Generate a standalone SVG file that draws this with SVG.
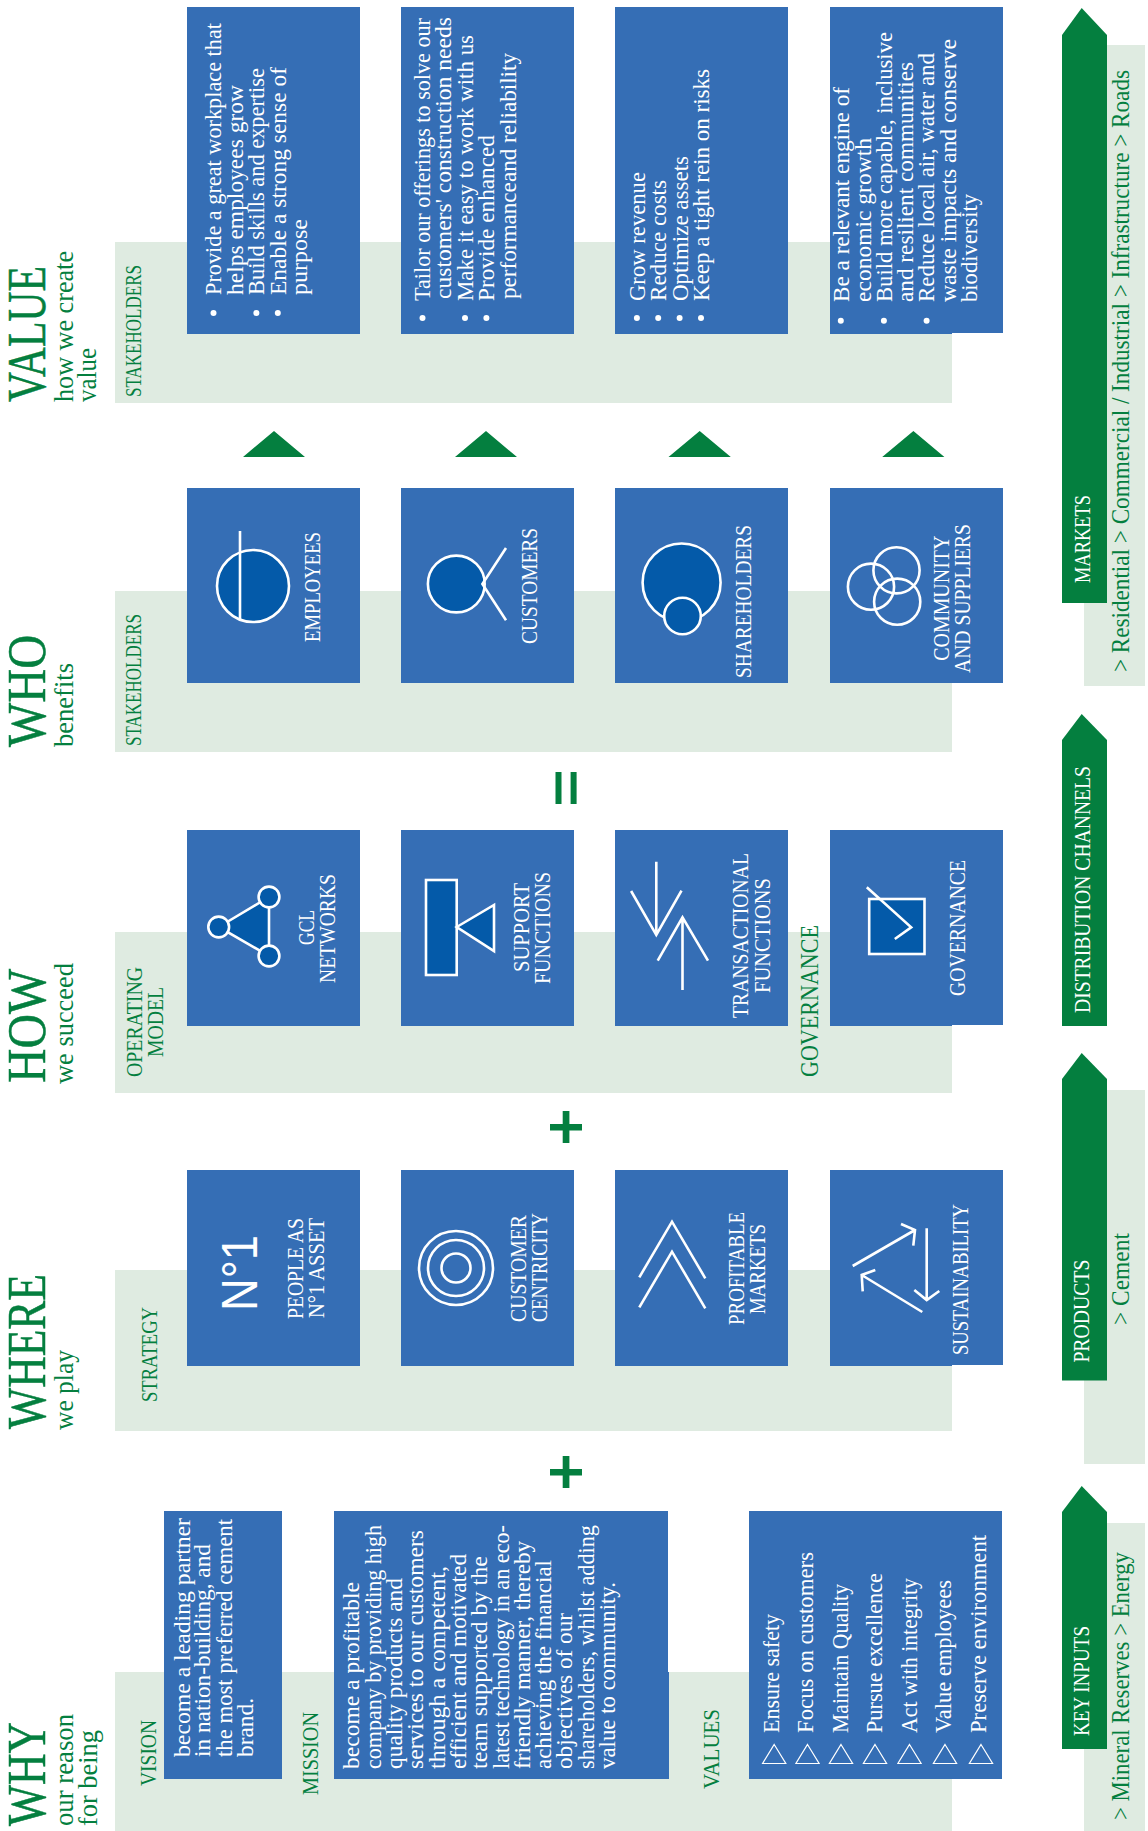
<svg xmlns="http://www.w3.org/2000/svg" width="1148" height="1831" viewBox="0 0 1148 1831">
<style>
text{font-family:"Liberation Serif","Times New Roman",serif;}
.g{fill:#047f3f}.w{fill:#fff}
.h{font-size:54px;stroke:#047f3f;stroke-width:.5}.s{font-size:27px}.l{font-size:24px}.b{font-size:23px}.m{font-size:25px}
.band{fill:#dfebe1}.box{fill:#356eb5}.ar{fill:#047f3f}
.ic{fill:none;stroke:#fff;stroke-width:2.6}.dk{fill:#045aa9;stroke:#fff;stroke-width:2.6}.thin{fill:none;stroke:#fff;stroke-width:1.2}
</style>
<g id="bands">
<rect class="band" x="115" y="1672" width="837" height="159"/>
<rect class="band" x="115" y="1270" width="837" height="161"/>
<rect class="band" x="115" y="932" width="837" height="161"/>
<rect class="band" x="115" y="591" width="837" height="161"/>
<rect class="band" x="115" y="242" width="837" height="161"/>
<rect class="band" x="1084" y="45" width="61" height="641"/>
<rect class="band" x="1084" y="1090" width="61" height="374"/>
<rect class="band" x="1084" y="1523" width="61" height="308"/>
</g>
<g id="row-why">
<text class="g h" transform="translate(44.8,1826) rotate(-90)" textLength="104" lengthAdjust="spacingAndGlyphs">WHY</text>
<text class="g s" transform="translate(73,1826) rotate(-90)" textLength="112" lengthAdjust="spacingAndGlyphs">our reason</text>
<text class="g s" transform="translate(97,1826) rotate(-90)" textLength="96" lengthAdjust="spacingAndGlyphs">for being</text>
<text class="g l" transform="translate(156,1786) rotate(-90)" textLength="66" lengthAdjust="spacingAndGlyphs">VISION</text>
<text class="g l" transform="translate(318,1795) rotate(-90)" textLength="83" lengthAdjust="spacingAndGlyphs">MISSION</text>
<text class="g l" transform="translate(718.5,1789) rotate(-90)" textLength="80" lengthAdjust="spacingAndGlyphs">VALUES</text>
</g>
<g id="vision">
<rect class="box" x="164" y="1511" width="118" height="268"/>
<text class="w b" transform="translate(190,1757) rotate(-90)" textLength="239" lengthAdjust="spacingAndGlyphs">become a leading partner</text>
<text class="w b" transform="translate(210,1757) rotate(-90)" textLength="213" lengthAdjust="spacingAndGlyphs">in nation-building, and</text>
<text class="w b" transform="translate(232,1757) rotate(-90)" textLength="238" lengthAdjust="spacingAndGlyphs">the most preferred cement</text>
<text class="w b" transform="translate(253,1757) rotate(-90)" textLength="59" lengthAdjust="spacingAndGlyphs">brand.</text>
</g>
<g id="mission">
<rect class="box" x="334" y="1511" width="334" height="268"/>
<rect class="box" x="668" y="1672" width="1" height="107"/>
<text class="w b" transform="translate(359.4,1769) rotate(-90)" textLength="187" lengthAdjust="spacingAndGlyphs">become a profitable</text>
<text class="w b" transform="translate(380.7,1769) rotate(-90)" textLength="244" lengthAdjust="spacingAndGlyphs">company by providing high</text>
<text class="w b" transform="translate(402,1769) rotate(-90)" textLength="191" lengthAdjust="spacingAndGlyphs">quality products and</text>
<text class="w b" transform="translate(423.3,1769) rotate(-90)" textLength="239" lengthAdjust="spacingAndGlyphs">services to our customers</text>
<text class="w b" transform="translate(444.6,1769) rotate(-90)" textLength="203" lengthAdjust="spacingAndGlyphs">through a competent,</text>
<text class="w b" transform="translate(465.9,1769) rotate(-90)" textLength="215" lengthAdjust="spacingAndGlyphs">efficient and motivated</text>
<text class="w b" transform="translate(487.2,1769) rotate(-90)" textLength="213" lengthAdjust="spacingAndGlyphs">team supported by the</text>
<text class="w b" transform="translate(508.5,1769) rotate(-90)" textLength="244" lengthAdjust="spacingAndGlyphs">latest technology in an eco-</text>
<text class="w b" transform="translate(529.8,1769) rotate(-90)" textLength="228" lengthAdjust="spacingAndGlyphs">friendly manner, thereby</text>
<text class="w b" transform="translate(551.1,1769) rotate(-90)" textLength="209" lengthAdjust="spacingAndGlyphs">achieving the financial</text>
<text class="w b" transform="translate(572.4,1769) rotate(-90)" textLength="156" lengthAdjust="spacingAndGlyphs">objectives of our</text>
<text class="w b" transform="translate(593.7,1769) rotate(-90)" textLength="244" lengthAdjust="spacingAndGlyphs">shareholders, whilst adding</text>
<text class="w b" transform="translate(615,1769) rotate(-90)" textLength="187" lengthAdjust="spacingAndGlyphs">value to community.</text>
</g>
<g id="values">
<rect class="box" x="749" y="1511" width="253" height="268"/>
<path class="thin" d="M774.2 1744.5L785.8 1763.5H762.6ZM807.5 1744.5L819.1 1763.5H795.9ZM841 1744.5L852.6 1763.5H829.4ZM875 1744.5L886.6 1763.5H863.4ZM909.5 1744.5L921.1 1763.5H897.9ZM945 1744.5L956.6 1763.5H933.4ZM981 1744.5L992.6 1763.5H969.4Z"/>
<text class="w l" transform="translate(779.3,1733) rotate(-90)" textLength="119" lengthAdjust="spacingAndGlyphs">Ensure safety</text>
<text class="w l" transform="translate(813.3,1733) rotate(-90)" textLength="181" lengthAdjust="spacingAndGlyphs">Focus on customers</text>
<text class="w l" transform="translate(847.7,1733) rotate(-90)" textLength="149" lengthAdjust="spacingAndGlyphs">Maintain Quality</text>
<text class="w l" transform="translate(882.3,1733) rotate(-90)" textLength="160" lengthAdjust="spacingAndGlyphs">Pursue excellence</text>
<text class="w l" transform="translate(916.7,1733) rotate(-90)" textLength="155" lengthAdjust="spacingAndGlyphs">Act with integrity</text>
<text class="w l" transform="translate(950.7,1733) rotate(-90)" textLength="153" lengthAdjust="spacingAndGlyphs">Value employees</text>
<text class="w l" transform="translate(985.7,1733) rotate(-90)" textLength="198" lengthAdjust="spacingAndGlyphs">Preserve environment</text>
</g>
<g id="row-where">
<text class="g h" transform="translate(44.8,1429) rotate(-90)" textLength="155" lengthAdjust="spacingAndGlyphs">WHERE</text>
<text class="g s" transform="translate(73,1430) rotate(-90)" textLength="80" lengthAdjust="spacingAndGlyphs">we play</text>
<text class="g l" transform="translate(157,1402) rotate(-90)" textLength="95" lengthAdjust="spacingAndGlyphs">STRATEGY</text>
</g>
<g id="people">
<rect class="box" x="187" y="1170" width="173" height="196"/>
<text class="w" style="font-family:'Liberation Sans',Arial,sans-serif;font-size:50px" transform="translate(257,1311) rotate(-90)" textLength="76" lengthAdjust="spacingAndGlyphs">N°1</text>
<text class="w l" transform="translate(302.5,1319) rotate(-90)" textLength="101" lengthAdjust="spacingAndGlyphs">PEOPLE AS</text>
<text class="w l" transform="translate(324,1318) rotate(-90)" textLength="100" lengthAdjust="spacingAndGlyphs">N°1 ASSET</text>
</g>
<g id="centricity">
<rect class="box" x="401" y="1170" width="173" height="196"/>
<circle class="ic" cx="456" cy="1268" r="37"/><circle class="ic" cx="456" cy="1268" r="28"/><circle class="ic" cx="456" cy="1268" r="14.5"/>
<text class="w l" transform="translate(526,1322) rotate(-90)" textLength="107" lengthAdjust="spacingAndGlyphs">CUSTOMER</text>
<text class="w l" transform="translate(547,1322) rotate(-90)" textLength="109" lengthAdjust="spacingAndGlyphs">CENTRICITY</text>
</g>
<g id="profitable">
<rect class="box" x="615" y="1170" width="173" height="196"/>
<path class="ic" d="M639.3 1277.3L672 1221.7L705.3 1278.3M639.3 1307.3L672 1251.7L705.3 1308.3"/>
<text class="w l" transform="translate(744,1325) rotate(-90)" textLength="113" lengthAdjust="spacingAndGlyphs">PROFITABLE</text>
<text class="w l" transform="translate(765,1314) rotate(-90)" textLength="90" lengthAdjust="spacingAndGlyphs">MARKETS</text>
</g>
<g id="sustainability">
<rect class="box" x="830" y="1170" width="173" height="195"/>
<rect class="box" x="830" y="1365" width="122" height="1"/>
<path class="ic" d="M852.7 1266L915 1230M901 1224L915 1230L913.3 1245.7M926.7 1228.3V1300M914.3 1290L926.7 1300L939.3 1291M922.3 1312L861.7 1275M875.3 1270L861.7 1275L862.7 1291.3"/>
<text class="w l" transform="translate(968,1355) rotate(-90)" textLength="151" lengthAdjust="spacingAndGlyphs">SUSTAINABILITY</text>
</g>
<g id="row-how">
<text class="g h" transform="translate(44.8,1083) rotate(-90)" textLength="114" lengthAdjust="spacingAndGlyphs">HOW</text>
<text class="g s" transform="translate(73,1084) rotate(-90)" textLength="121" lengthAdjust="spacingAndGlyphs">we succeed</text>
<text class="g l" transform="translate(141.5,1077) rotate(-90)" textLength="110" lengthAdjust="spacingAndGlyphs">OPERATING</text>
<text class="g l" transform="translate(162.5,1057) rotate(-90)" textLength="70" lengthAdjust="spacingAndGlyphs">MODEL</text>
<text class="g l" style="font-size:26px" transform="translate(817.5,1077) rotate(-90)" textLength="152" lengthAdjust="spacingAndGlyphs">GOVERNANCE</text>
</g>
<g id="networks">
<rect class="box" x="187" y="830" width="173" height="196"/>
<path class="dk" d="M218.7 927L269 897V956Z"/>
<circle class="dk" cx="218.7" cy="927" r="10.4"/><circle class="dk" cx="269" cy="897" r="10.4"/><circle class="dk" cx="269" cy="956" r="10.4"/>
<text class="w l" transform="translate(313.6,945) rotate(-90)" textLength="35" lengthAdjust="spacingAndGlyphs">GCL</text>
<text class="w l" transform="translate(335,983) rotate(-90)" textLength="109" lengthAdjust="spacingAndGlyphs">NETWORKS</text>
</g>
<g id="support">
<rect class="box" x="401" y="830" width="173" height="196"/>
<rect class="dk" x="426" y="880" width="30.7" height="95"/>
<path class="dk" d="M456.7 927L494 905V951Z"/>
<text class="w l" transform="translate(529,972) rotate(-90)" textLength="89" lengthAdjust="spacingAndGlyphs">SUPPORT</text>
<text class="w l" transform="translate(550.4,984) rotate(-90)" textLength="112" lengthAdjust="spacingAndGlyphs">FUNCTIONS</text>
</g>
<g id="transactional">
<rect class="box" x="615" y="830" width="173" height="196"/>
<path class="ic" d="M656.3 861.7V935M631.1 891L656.3 935L681.5 890.7M682.5 990V917.3M657.7 960.7L682.5 917.3L708 960.7"/>
<text class="w l" transform="translate(748,1018) rotate(-90)" textLength="165" lengthAdjust="spacingAndGlyphs">TRANSACTIONAL</text>
<text class="w l" transform="translate(769.6,993) rotate(-90)" textLength="115" lengthAdjust="spacingAndGlyphs">FUNCTIONS</text>
</g>
<g id="governance">
<rect class="box" x="830" y="830" width="173" height="195"/>
<rect class="box" x="830" y="1025" width="122" height="1"/>
<rect class="dk" x="869.2" y="899" width="55.3" height="55"/>
<path class="ic" d="M866.8 887.3L911.2 927.3L894.8 939"/>
<text class="w l" transform="translate(964.7,996) rotate(-90)" textLength="136" lengthAdjust="spacingAndGlyphs">GOVERNANCE</text>
</g>
<g id="row-who">
<text class="g h" transform="translate(44.8,747) rotate(-90)" textLength="112" lengthAdjust="spacingAndGlyphs">WHO</text>
<text class="g s" transform="translate(73,747) rotate(-90)" textLength="84" lengthAdjust="spacingAndGlyphs">benefits</text>
<text class="g l" transform="translate(141,746) rotate(-90)" textLength="132" lengthAdjust="spacingAndGlyphs">STAKEHOLDERS</text>
</g>
<g id="employees">
<rect class="box" x="187" y="488" width="173" height="195"/>
<circle class="dk" cx="253" cy="586" r="36"/>
<path class="ic" d="M240 531V619"/>
<text class="w l" transform="translate(319.5,642) rotate(-90)" textLength="110" lengthAdjust="spacingAndGlyphs">EMPLOYEES</text>
</g>
<g id="customers">
<rect class="box" x="401" y="488" width="173" height="195"/>
<circle class="dk" cx="456.3" cy="584" r="28.4"/>
<path class="ic" d="M506 548L482.4 584L506 620.3"/>
<text class="w l" transform="translate(537,644) rotate(-90)" textLength="116" lengthAdjust="spacingAndGlyphs">CUSTOMERS</text>
</g>
<g id="shareholders">
<rect class="box" x="615" y="488" width="173" height="195"/>
<circle class="dk" cx="681.6" cy="582.5" r="39"/>
<circle class="dk" cx="682.5" cy="616" r="18.3"/>
<text class="w l" transform="translate(751,678) rotate(-90)" textLength="153" lengthAdjust="spacingAndGlyphs">SHAREHOLDERS</text>
</g>
<g id="community">
<rect class="box" x="830" y="488" width="173" height="195"/>
<circle class="ic" cx="871" cy="586.7" r="23.1"/><circle class="ic" cx="896.5" cy="570.3" r="23.1"/><circle class="ic" cx="897.2" cy="601.7" r="23.1"/>
<text class="w l" transform="translate(948.6,660.7) rotate(-90)" textLength="125" lengthAdjust="spacingAndGlyphs">COMMUNITY</text>
<text class="w l" transform="translate(970,673) rotate(-90)" textLength="149" lengthAdjust="spacingAndGlyphs">AND SUPPLIERS</text>
</g>
<g id="row-value">
<text class="g h" transform="translate(44.8,402) rotate(-90)" textLength="136" lengthAdjust="spacingAndGlyphs">VALUE</text>
<text class="g s" transform="translate(72.7,402) rotate(-90)" textLength="151" lengthAdjust="spacingAndGlyphs">how we create</text>
<text class="g s" transform="translate(96.4,402) rotate(-90)" textLength="54" lengthAdjust="spacingAndGlyphs">value</text>
<text class="g l" transform="translate(141,397) rotate(-90)" textLength="132" lengthAdjust="spacingAndGlyphs">STAKEHOLDERS</text>
</g>
<g id="value-employees">
<rect class="box" x="187" y="7" width="173" height="327"/>
<g fill="#fff"><circle cx="213.5" cy="313" r="3"/><circle cx="256.4" cy="313" r="3"/><circle cx="277.8" cy="313" r="3"/></g>
<text class="w b" transform="translate(221,295) rotate(-90)" textLength="272" lengthAdjust="spacingAndGlyphs">Provide a great workplace that</text>
<text class="w b" transform="translate(243,295) rotate(-90)" textLength="210" lengthAdjust="spacingAndGlyphs">helps employees grow</text>
<text class="w b" transform="translate(264,295) rotate(-90)" textLength="227" lengthAdjust="spacingAndGlyphs">Build skills and expertise</text>
<text class="w b" transform="translate(286,295) rotate(-90)" textLength="228" lengthAdjust="spacingAndGlyphs">Enable a strong sense of</text>
<text class="w b" transform="translate(307,295) rotate(-90)" textLength="76" lengthAdjust="spacingAndGlyphs">purpose</text>
</g>
<g id="value-customers">
<rect class="box" x="401" y="7" width="173" height="327"/>
<g fill="#fff"><circle cx="422.5" cy="318" r="3"/><circle cx="465" cy="318" r="3"/><circle cx="486.4" cy="318" r="3"/></g>
<text class="w b" transform="translate(430,301) rotate(-90)" textLength="283" lengthAdjust="spacingAndGlyphs">Tailor our offerings to solve our</text>
<text class="w b" transform="translate(451.4,299) rotate(-90)" textLength="282" lengthAdjust="spacingAndGlyphs">customers' construction needs</text>
<text class="w b" transform="translate(473,301) rotate(-90)" textLength="266" lengthAdjust="spacingAndGlyphs">Make it easy to work with us</text>
<text class="w b" transform="translate(494.4,301) rotate(-90)" textLength="166" lengthAdjust="spacingAndGlyphs">Provide enhanced</text>
<text class="w b" transform="translate(516,299) rotate(-90)" textLength="246" lengthAdjust="spacingAndGlyphs">performanceand reliability</text>
</g>
<g id="value-shareholders">
<rect class="box" x="615" y="7" width="173" height="327"/>
<g fill="#fff"><circle cx="636.9" cy="318" r="3"/><circle cx="658.2" cy="318" r="3"/><circle cx="679.6" cy="318" r="3"/><circle cx="701" cy="318" r="3"/></g>
<text class="w b" transform="translate(645.2,301) rotate(-90)" textLength="129" lengthAdjust="spacingAndGlyphs">Grow revenue</text>
<text class="w b" transform="translate(666.2,301) rotate(-90)" textLength="121" lengthAdjust="spacingAndGlyphs">Reduce costs</text>
<text class="w b" transform="translate(687.6,301) rotate(-90)" textLength="145" lengthAdjust="spacingAndGlyphs">Optimize assets</text>
<text class="w b" transform="translate(708.9,301) rotate(-90)" textLength="232" lengthAdjust="spacingAndGlyphs">Keep a tight rein on risks</text>
</g>
<g id="value-community">
<rect class="box" x="830" y="7" width="173" height="326"/>
<rect class="box" x="830" y="333" width="122" height="1"/>
<g fill="#fff"><circle cx="840.8" cy="320.7" r="3"/><circle cx="883.9" cy="320.7" r="3"/><circle cx="926.6" cy="320.7" r="3"/></g>
<text class="w b" transform="translate(849.1,302) rotate(-90)" textLength="215" lengthAdjust="spacingAndGlyphs">Be a relevant engine of</text>
<text class="w b" transform="translate(870.5,302) rotate(-90)" textLength="164" lengthAdjust="spacingAndGlyphs">economic growth</text>
<text class="w b" transform="translate(891.8,302) rotate(-90)" textLength="270" lengthAdjust="spacingAndGlyphs">Build more capable, inclusive</text>
<text class="w b" transform="translate(913.2,302) rotate(-90)" textLength="240" lengthAdjust="spacingAndGlyphs">and resilient communities</text>
<text class="w b" transform="translate(934.2,302) rotate(-90)" textLength="249" lengthAdjust="spacingAndGlyphs">Reduce local air, water and</text>
<text class="w b" transform="translate(955.9,302) rotate(-90)" textLength="263" lengthAdjust="spacingAndGlyphs">waste impacts and conserve</text>
<text class="w b" transform="translate(977,302) rotate(-90)" textLength="108" lengthAdjust="spacingAndGlyphs">biodiversity</text>
</g>
<g id="connectors">
<path class="ar" d="M274 431L305 457H243ZM486 431L517 457H455ZM699.7 431L730.8 457H668.5ZM913.4 431L944.4 457H882.2Z"/>
<path class="ar" d="M555.5 772h6v32h-6zM570.6 772h6v32h-6z"/>
<path class="ar" d="M562.7 1111h6.7v13h12.6v6.5h-12.6V1143h-6.7v-12.5H550V1124h12.7zM562.7 1456h6.7v13h12.6v6.5h-12.6V1488h-6.7v-12.5H550V1469h12.7z"/>
</g>
<g id="key-inputs">
<path class="ar" d="M1062 1749V1512L1081.7 1486L1107 1512V1749Z"/>
<text class="w l" transform="translate(1089,1736) rotate(-90)" textLength="110" lengthAdjust="spacingAndGlyphs">KEY INPUTS</text>
<text class="g m" transform="translate(1129,1820) rotate(-90)" textLength="268" lengthAdjust="spacingAndGlyphs">&gt; Mineral Reserves &gt; Energy</text>
</g>
<g id="products">
<path class="ar" d="M1062 1380.5V1079L1081.7 1053L1107 1079V1380.5Z"/>
<text class="w l" transform="translate(1089,1362.6) rotate(-90)" textLength="103" lengthAdjust="spacingAndGlyphs">PRODUCTS</text>
<text class="g m" transform="translate(1129,1325) rotate(-90)" textLength="92" lengthAdjust="spacingAndGlyphs">&gt; Cement</text>
</g>
<g id="distribution">
<path class="ar" d="M1062 1026V740L1081.7 714L1107 740V1026Z"/>
<text class="w l" transform="translate(1089.5,1013) rotate(-90)" textLength="247" lengthAdjust="spacingAndGlyphs">DISTRIBUTION CHANNELS</text>
</g>
<g id="markets">
<path class="ar" d="M1062 603V35L1081.7 8L1107 35V603Z"/>
<text class="w l" transform="translate(1089.5,583) rotate(-90)" textLength="88" lengthAdjust="spacingAndGlyphs">MARKETS</text>
<text class="g m" transform="translate(1129,672) rotate(-90)" textLength="602" lengthAdjust="spacingAndGlyphs">&gt; Residential &gt; Commercial / Industrial &gt; Infrastructure &gt; Roads</text>
</g>
</svg>
